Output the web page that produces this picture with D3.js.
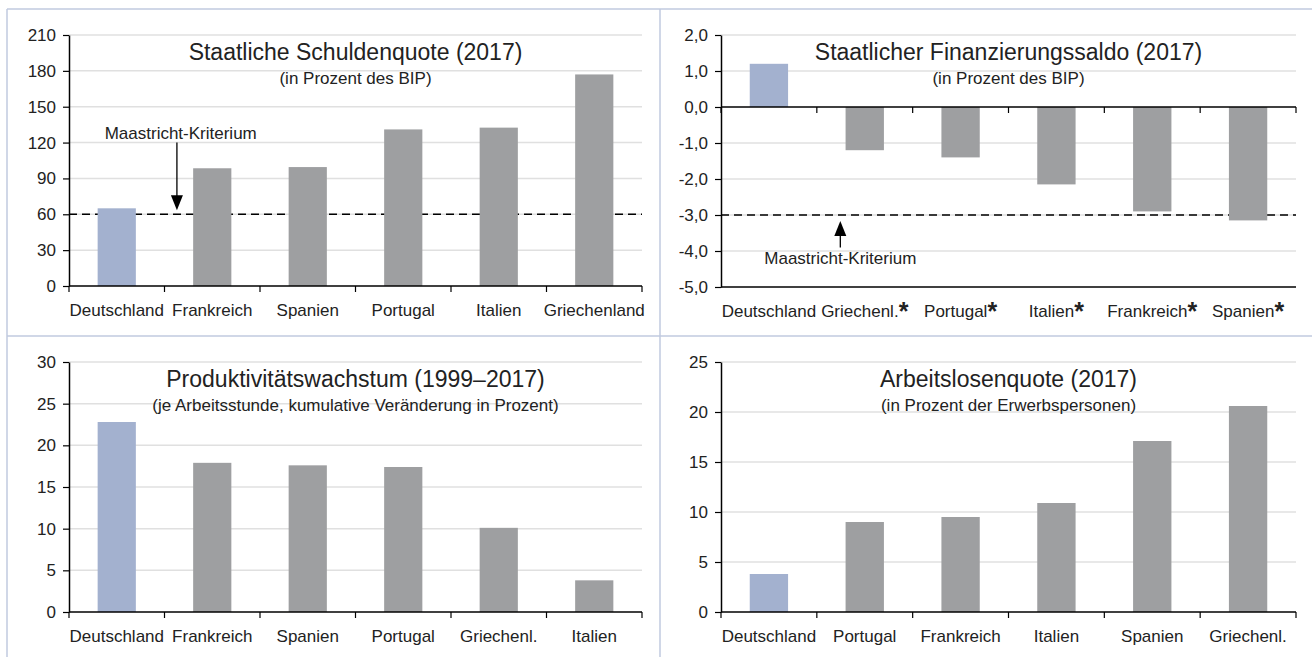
<!DOCTYPE html>
<html><head><meta charset="utf-8">
<script src="https://cdn.jsdelivr.net/npm/d3@7"></script>
<style>
body{margin:0;background:#fff;}
svg{display:block;font-family:"Liberation Sans",Arial,sans-serif;}
</style></head><body>
<svg id="c" width="1312" height="657"></svg>
<script>
// ---------- data ----------
const debtCategories = ["Deutschland","Frankreich","Spanien","Portugal","Italien","Griechenland"];
const debtValues = [65, 98.5, 99.5, 131, 132.5, 177];
const debtTicks = [0,30,60,90,120,150,180,210];
const debtThreshold = 60;

const balanceCategories = ["Deutschland","Griechenl.","Portugal","Italien","Frankreich","Spanien"];
const balanceStarred = [false,true,true,true,true,true];
const balanceValues = [1.2,-1.2,-1.4,-2.15,-2.9,-3.15];
const balanceTicks = [2,1,0,-1,-2,-3,-4,-5];
const balanceThreshold = -3;

const prodCategories = ["Deutschland","Frankreich","Spanien","Portugal","Griechenl.","Italien"];
const prodValues = [22.8,17.9,17.6,17.4,10.1,3.8];
const prodTicks = [0,5,10,15,20,25,30];

const unempCategories = ["Deutschland","Portugal","Frankreich","Italien","Spanien","Griechenl."];
const unempValues = [3.8,9.0,9.5,10.9,17.1,20.6];
const unempTicks = [0,5,10,15,20,25];

const titles = ["Staatliche Schuldenquote (2017)","Staatlicher Finanzierungssaldo (2017)","Produktivitätswachstum (1999–2017)","Arbeitslosenquote (2017)"];
const subtitles = ["(in Prozent des BIP)","(in Prozent des BIP)","(je Arbeitsstunde, kumulative Veränderung in Prozent)","(in Prozent der Erwerbspersonen)"];
const annotationLabel = "Maastricht-Kriterium";

// ---------- style ----------
const BLUE = "#a3b1cf", GREY = "#9e9fa1", GRID = "#e0e0e0", TXT = "#222", FRAME = "#c0cadf";
const svg = d3.select("#c");
const deLocale = d3.formatLocale({decimal:",",thousands:".",grouping:[3],currency:["","€"],minus:"-"});

// frame
const frame = svg.append("g").attr("stroke", FRAME).attr("stroke-width", 1.5);
frame.append("line").attr("x1",7).attr("x2",1312).attr("y1",9).attr("y2",9);
frame.append("line").attr("x1",7).attr("x2",7).attr("y1",9).attr("y2",657);
frame.append("line").attr("x1",660).attr("x2",660).attr("y1",9).attr("y2",657);
frame.append("line").attr("x1",7).attr("x2",1312).attr("y1",336).attr("y2",336);

function panel(opt){
  const {cats, vals, ticks, box, fmt, title, subtitle, starred} = opt;
  const g = svg.append("g");
  const x = d3.scaleBand().domain(cats).range([box.x0, box.x1]).padding(0);
  const y = d3.scaleLinear().domain([d3.min(ticks), d3.max(ticks)]).range([box.y1, box.y0]);
  const y0 = y(0);
  const bw = x.step()*0.4;

  // gridlines
  g.append("g").selectAll("line").data(ticks.filter(t=>t!==0 && t!==d3.min(ticks))).join("line")
    .attr("x1", box.x0).attr("x2", box.x1)
    .attr("y1", d=>y(d)).attr("y2", d=>y(d))
    .attr("stroke", GRID).attr("stroke-width", 1.5);

  // threshold dashed
  if (opt.threshold !== undefined){
    g.append("line").attr("x1", box.x0).attr("x2", box.x1)
      .attr("y1", y(opt.threshold)).attr("y2", y(opt.threshold))
      .attr("stroke", "#000").attr("stroke-width", 1.5).attr("stroke-dasharray","8,5");
  }

  // bars
  g.append("g").selectAll("rect").data(cats).join("rect")
    .attr("x", (d)=>x(d)+x.step()/2-bw/2)
    .attr("width", bw)
    .attr("y", (d,i)=>Math.min(y(vals[i]), y0))
    .attr("height", (d,i)=>Math.abs(y(vals[i])-y0))
    .attr("fill", (d,i)=> i===0 ? BLUE : GREY);

  // y axis
  const ya = g.append("g").attr("transform", `translate(${box.x0},0)`)
    .call(d3.axisLeft(y).tickValues(ticks).tickSize(6).tickSizeOuter(0).tickPadding(7).tickFormat(fmt));
  ya.select(".domain").attr("stroke","#000").attr("stroke-width",1.5);
  ya.selectAll(".tick line").attr("stroke","#000").attr("stroke-width",1.2);
  ya.selectAll("text").attr("font-size",17).attr("fill",TXT).attr("font-family","Liberation Sans, Arial, sans-serif");

  // x axis (zero line) with boundary ticks
  g.append("line").attr("x1", box.x0).attr("x2", box.x1).attr("y1", y0).attr("y2", y0)
    .attr("stroke","#000").attr("stroke-width",1.5);
  g.append("g").selectAll("line").data(d3.range(cats.length+1)).join("line")
    .attr("x1", i=>box.x0 + i*x.step()).attr("x2", i=>box.x0 + i*x.step())
    .attr("y1", y0).attr("y2", y0+6)
    .attr("stroke","#000").attr("stroke-width",1.2);
  if (d3.min(ticks) < 0){
    g.append("line").attr("x1", box.x0).attr("x2", box.x1).attr("y1", box.y1).attr("y2", box.y1)
      .attr("stroke","#000").attr("stroke-width",1.5);
  }

  // category labels
  const lab = g.append("g").selectAll("text").data(cats).join("text")
    .attr("x", d=>x(d)+x.step()/2).attr("y", box.y1+30)
    .attr("text-anchor","middle").attr("font-size",17).attr("fill",TXT);
  lab.append("tspan").text(d=>d);
  if (starred){
    lab.filter((d,i)=>starred[i]).append("tspan").text("*")
      .attr("font-size",25).attr("font-weight","bold").attr("dy",3);
  }

  // titles
  const cx = (box.x0+box.x1)/2;
  g.append("text").attr("x",cx).attr("y",box.y0+25).attr("text-anchor","middle")
    .attr("font-size",23).attr("fill",TXT).text(title);
  g.append("text").attr("x",cx).attr("y",box.y0+49).attr("text-anchor","middle")
    .attr("font-size",17).attr("fill",TXT).text(subtitle);

  return {g, x, y};
}

function arrow(g, x, yFrom, yTo){
  const dir = yTo > yFrom ? 1 : -1;
  g.append("line").attr("x1",x).attr("x2",x).attr("y1",yFrom).attr("y2",yTo - dir*14)
    .attr("stroke","#000").attr("stroke-width",1.3);
  g.append("path").attr("d", `M${x-6},${yTo-dir*15} L${x+6},${yTo-dir*15} L${x},${yTo} Z`).attr("fill","#000");
}

const intFmt = d3.format("d");
const decFmt = deLocale.format(".1f");

const p1 = panel({cats:debtCategories, vals:debtValues, ticks:debtTicks, box:{x0:69,x1:642,y0:35,y1:286},
  fmt:intFmt, title:titles[0], subtitle:subtitles[0], threshold:debtThreshold});
{
  const ax = p1.x.range()[0] + p1.x.step()*1.13;
  p1.g.append("text").attr("x", p1.x.range()[0] + p1.x.step()*1.17).attr("y", p1.y(120)-4)
    .attr("text-anchor","middle").attr("font-size",17).attr("fill",TXT).text(annotationLabel);
  arrow(p1.g, ax, p1.y(120), p1.y(debtThreshold)-4);
}

const p2 = panel({cats:balanceCategories, vals:balanceValues, ticks:balanceTicks, box:{x0:721,x1:1296,y0:35,y1:287},
  fmt:decFmt, title:titles[1], subtitle:subtitles[1], threshold:balanceThreshold, starred:balanceStarred});
{
  const ax = p2.x.range()[0] + p2.x.step()*1.245;
  arrow(p2.g, ax, p2.y(-3.9), p2.y(balanceThreshold)+6);
  p2.g.append("text").attr("x", ax).attr("y", p2.y(-4)+13)
    .attr("text-anchor","middle").attr("font-size",17).attr("fill",TXT).text(annotationLabel);
}

panel({cats:prodCategories, vals:prodValues, ticks:prodTicks, box:{x0:69,x1:642,y0:362,y1:612},
  fmt:intFmt, title:titles[2], subtitle:subtitles[2]});

panel({cats:unempCategories, vals:unempValues, ticks:unempTicks, box:{x0:721,x1:1296,y0:362,y1:612},
  fmt:intFmt, title:titles[3], subtitle:subtitles[3]});
</script>
</body></html>
